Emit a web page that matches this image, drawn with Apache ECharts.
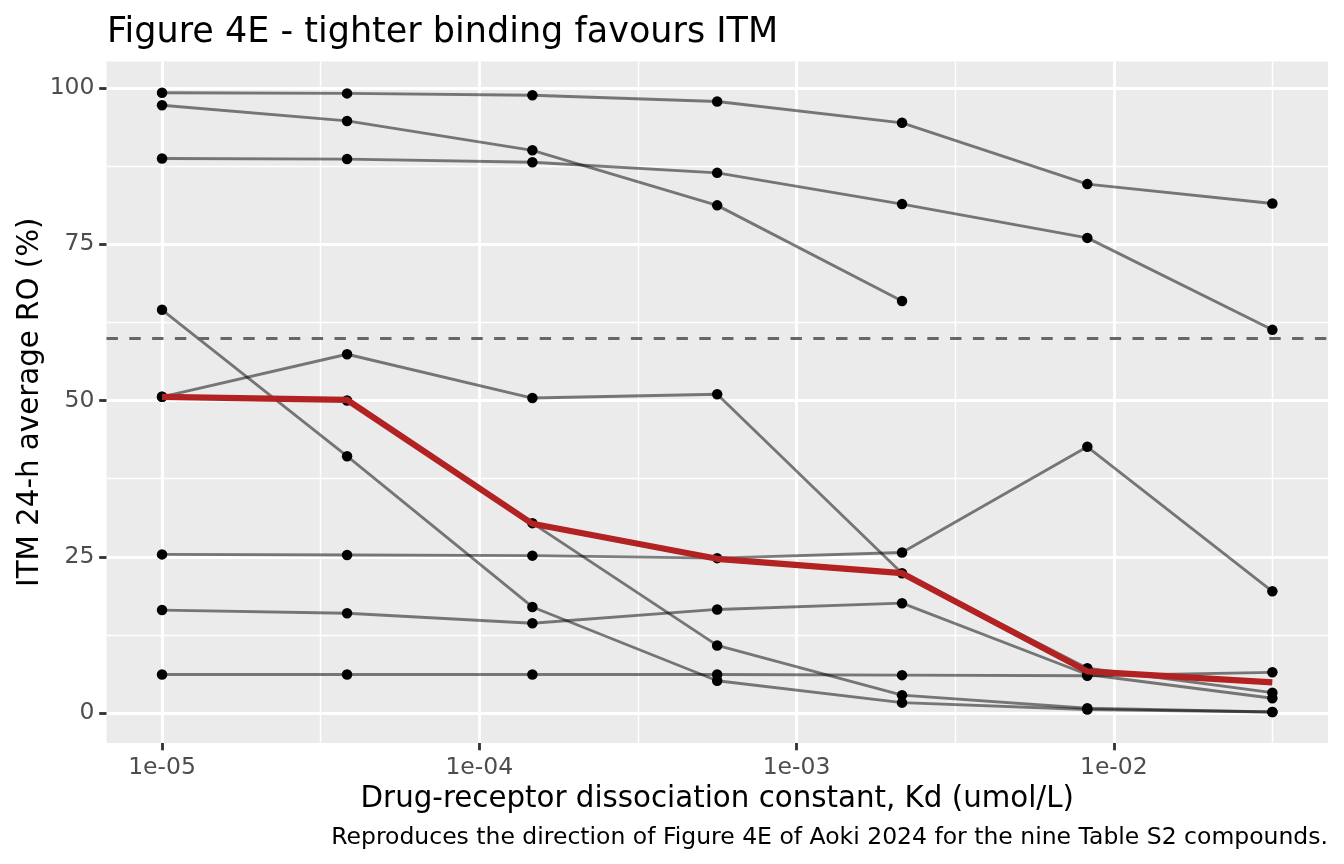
<!DOCTYPE html>
<html>
<head>
<meta charset="utf-8">
<title>Figure 4E</title>
<script src="https://cdn.jsdelivr.net/npm/echarts@6/dist/echarts.min.js"></script>
<style>
  html, body { margin: 0; padding: 0; background: #fff; }
  #chart { width: 1344px; height: 864px; }
</style>
</head>
<body>
<div id="chart"></div>
<script>
// Kd grid (umol/L), seven log-spaced values
const kd = [1.0e-5, 3.83e-5, 1.47e-4, 5.62e-4, 2.15e-3, 8.25e-3, 3.16e-2];

// ITM 24-h average RO (%) for the nine compounds
const compound1 = [99.2, 99.1, 98.8, 97.8, 94.4, 84.6, 81.5];
const compound2 = [97.2, 94.7, 90.0, 81.2, 65.9, null, null];
const compound3 = [88.7, 88.6, 88.1, 86.4, 81.4, 76.0, 61.3];
const compound4 = [64.5, 41.1, 17.0, 5.2, 1.7, 0.6, 0.2];
const compound5 = [50.6, 57.4, 50.4, 51.0, 22.4, 7.2, 3.3];
const compound6 = [25.4, 25.3, 25.2, 24.8, 25.7, 42.6, 19.5];
const compound7 = [16.5, 16.0, 14.4, 16.6, 17.6, 6.2, 2.4];
const compound8 = [6.2, 6.2, 6.2, 6.2, 6.1, 6.0, 6.55];
const compound9 = [50.6, 50.0, 30.4, 10.85, 2.9, 0.8, 0.2];
// median across compounds (red line)
const median = [50.6, 50.1, 30.3, 24.7, 22.4, 6.7, 4.95];

// ITM threshold (dashed line)
const threshold = 60;

// axis breaks
const xTicks = [1e-5, 1e-4, 1e-3, 1e-2];
const xTickLabels = ["1e-05", "1e-04", "1e-03", "1e-02"];
const xMinorTicks = [3.162e-5, 3.162e-4, 3.162e-3, 3.162e-2];
const yTicks = [0, 25, 50, 75, 100];
const yMinorTicks = [12.5, 37.5, 62.5, 87.5];

const compounds = [compound1, compound2, compound3, compound4, compound5,
  compound6, compound7, compound8, compound9];

const font = "DejaVu Sans";
const pairs = (ys) => kd.map((x, i) => [x, ys[i]]).filter((p) => p[1] != null);

function xLabel(v) {
  let best = 0;
  xTicks.forEach((t, i) => {
    if (Math.abs(Math.log10(v) - Math.log10(t)) <
        Math.abs(Math.log10(v) - Math.log10(xTicks[best]))) best = i;
  });
  return xTickLabels[best];
}

const myChart = echarts.init(document.getElementById("chart"), null, { renderer: "canvas" });

// gray lines, one per compound
let series = compounds.map((ys, i) => ({
  name: "Compound " + (i + 1),
  type: "line",
  data: pairs(ys),
  showSymbol: false,
  silent: true,
  z: 2,
  lineStyle: { color: "rgba(0,0,0,0.5)", width: 2.85, join: "round" },
}));

// threshold line
series[0].markLine = {
  silent: true,
  symbol: "none",
  label: { show: false },
  lineStyle: { color: "#666666", width: 2.85, type: [11.4, 11.4] },
  data: [{ yAxis: threshold }],
};

// points
series.push({
  name: "points",
  type: "scatter",
  data: compounds.flatMap((ys) => pairs(ys)),
  symbol: "circle",
  symbolSize: 10.5,
  silent: true,
  z: 3,
  itemStyle: { color: "#000", opacity: 1 },
});

// median line on top
series.push({
  name: "Median",
  type: "line",
  data: pairs(median),
  showSymbol: false,
  silent: true,
  z: 4,
  lineStyle: { color: "#B22222", width: 6.2, join: "round", cap: "butt" },
});

const option = {
  animation: false,
  backgroundColor: "#fff",
  title: [
    {
      text: "Figure 4E - tighter binding favours ITM",
      left: 107,
      top: 15,
      padding: 0,
      textStyle: { fontFamily: font, fontSize: 35, fontWeight: "normal", color: "#000" },
    },
    {
      text: "Reproduces the direction of Figure 4E of Aoki 2024 for the nine Table S2 compounds.",
      right: 16,
      top: 826,
      padding: 0,
      textStyle: { fontFamily: font, fontSize: 23.5, fontWeight: "normal", color: "#000" },
    },
  ],
  grid: {
    show: true,
    left: 106.5,
    top: 61.5,
    width: 1221.5,
    height: 681.5,
    backgroundColor: "#EBEBEB",
    borderWidth: 0,
  },
  xAxis: [
    {
      type: "log",
      logBase: 10,
      min: 6.683e-6,
      max: 0.04732,
      position: "bottom",
      name: "Drug-receptor dissociation constant, Kd (umol/L)",
      nameLocation: "middle",
      nameGap: 40,
      nameTextStyle: { fontFamily: font, fontSize: 29.3, color: "#000" },
      axisLine: { show: false, onZero: false },
      axisTick: {
        show: true,
        customValues: xTicks,
        length: 7.3,
        lineStyle: { color: "#333333", width: 2.85 },
      },
      axisLabel: {
        customValues: xTicks,
        margin: 13,
        formatter: xLabel,
        fontFamily: font,
        fontSize: 23.5,
        color: "#4D4D4D",
      },
      splitLine: { show: true, lineStyle: { color: "#fff", width: 2.85 } },
    },
    {
      type: "log",
      logBase: 10,
      min: 6.683e-6,
      max: 0.04732,
      position: "top",
      axisLine: { show: false, onZero: false },
      axisTick: { show: false, customValues: xMinorTicks },
      axisLabel: { show: false },
      splitLine: { show: true, lineStyle: { color: "#fff", width: 1.42 } },
    },
  ],
  yAxis: [
    {
      type: "value",
      min: -4.75,
      max: 104.2,
      position: "left",
      name: "ITM 24-h average RO (%)",
      nameLocation: "middle",
      nameGap: 62,
      nameMoveOverlap: false,
      nameTextStyle: { fontFamily: font, fontSize: 29.3, color: "#000" },
      axisLine: { show: false, onZero: false },
      axisTick: {
        show: true,
        customValues: yTicks,
        length: 7.3,
        lineStyle: { color: "#333333", width: 2.85 },
      },
      axisLabel: {
        customValues: yTicks,
        margin: 12,
        fontFamily: font,
        fontSize: 23.5,
        color: "#4D4D4D",
      },
      splitLine: { show: true, lineStyle: { color: "#fff", width: 2.85 } },
    },
    {
      type: "value",
      min: -4.75,
      max: 104.2,
      position: "right",
      axisLine: { show: false, onZero: false },
      axisTick: { show: false, customValues: yMinorTicks },
      axisLabel: { show: false },
      splitLine: { show: true, lineStyle: { color: "#fff", width: 1.42 } },
    },
  ],
  series: series,
};

myChart.setOption(option);
</script>
</body>
</html>
